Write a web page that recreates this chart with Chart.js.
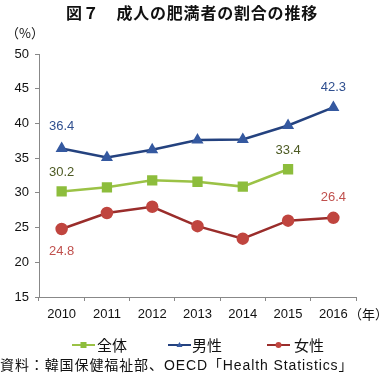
<!DOCTYPE html>
<html lang="ja">
<head>
<meta charset="UTF-8">
<title>成人の肥満者の割合の推移</title>
<script src="https://cdn.jsdelivr.net/npm/chart.js"></script>
<style>
  body { margin: 0; background: #fff; font-family: "Liberation Sans", "Noto Sans CJK JP", sans-serif; }
  #wrap { position: relative; width: 384px; height: 376px; overflow: hidden; }
  #title { position: absolute; top: 0px; left: 0; width: 384px; text-align: center;
    font: bold 16px "Noto Sans CJK JP", sans-serif; color: #111; letter-spacing: 0.8px; }
  #source { position: absolute; left: 0; top: 354px; font: 14px "Liberation Sans", "Noto Sans CJK JP", sans-serif;
    color: #111; white-space: nowrap; letter-spacing: 0.9px; }
  canvas { position: absolute; left: 0; top: 0; }
</style>
</head>
<body>
<div id="wrap">
  <canvas id="chart" width="384" height="376"></canvas>
  <div id="title">図７　成人の肥満者の割合の推移</div>
  <div id="source">資料：韓国保健福祉部、OECD「Health Statistics」</div>
</div>

<script>
  // データ
  const years = ["2010", "2011", "2012", "2013", "2014", "2015", "2016"];
  const zentai = [30.2, 30.8, 31.8, 31.6, 30.9, 33.4, null];
  const dansei = [36.4, 35.1, 36.2, 37.6, 37.7, 39.7, 42.3];
  const josei  = [24.8, 27.1, 28.0, 25.2, 23.4, 26.0, 26.4];
  const seriesNames = ["全体", "男性", "女性"];

  const numFont = '13px "Liberation Sans", sans-serif';
  const jpFont = '13px "Noto Sans CJK JP", sans-serif';

  // 値ラベル（最初と最後だけ）、単位、凡例
  const labelPlugin = {
    id: "valueLabels",
    afterDatasetsDraw(chart) {
      const ctx = chart.ctx;
      const marks = [
        { ds: 1, i: 0, dy: -22, color: "#2f4f8f" },
        { ds: 1, i: 6, dy: -20, color: "#2f4f8f" },
        { ds: 0, i: 0, dy: -19, color: "#4d5a23" },
        { ds: 0, i: 5, dy: -19, color: "#4d5a23" },
        { ds: 2, i: 0, dy: 22, color: "#c0504d" },
        { ds: 2, i: 6, dy: -20, color: "#c0504d" }
      ];
      ctx.save();
      ctx.font = numFont;
      ctx.textAlign = "center";
      ctx.textBaseline = "middle";
      marks.forEach(m => {
        const pt = chart.getDatasetMeta(m.ds).data[m.i];
        const v = chart.data.datasets[m.ds].data[m.i];
        ctx.fillStyle = m.color;
        ctx.fillText(v.toFixed(1), pt.x, pt.y + m.dy);
      });

      // 軸の単位
      ctx.fillStyle = "#111";
      ctx.font = jpFont;
      ctx.textAlign = "left";
      ctx.fillText("（%）", 6, 33);
      ctx.fillText("（年）", 349, 314);

      // 凡例
      const items = [
        { x: 72, tx: 97, ds: 0 },
        { x: 168, tx: 192, ds: 1 },
        { x: 267, tx: 294, ds: 2 }
      ];
      const ly = 345;
      items.forEach(it => {
        const d = chart.data.datasets[it.ds];
        ctx.strokeStyle = d.borderColor;
        ctx.lineWidth = 2;
        ctx.beginPath();
        ctx.moveTo(it.x, ly);
        ctx.lineTo(it.x + 23, ly);
        ctx.stroke();
        ctx.fillStyle = d.pointBackgroundColor;
        const cx = it.x + 11.5;
        if (d.pointStyle === "rect") {
          ctx.fillRect(cx - 3, ly - 3, 6, 6);
        } else if (d.pointStyle === "triangle") {
          ctx.beginPath();
          ctx.moveTo(cx, ly - 3);
          ctx.lineTo(cx + 3, ly + 2);
          ctx.lineTo(cx - 3, ly + 2);
          ctx.closePath();
          ctx.fill();
        } else {
          ctx.beginPath();
          ctx.arc(cx, ly, 3, 0, Math.PI * 2);
          ctx.fill();
        }
        ctx.fillStyle = "#111";
        ctx.font = '15px "Noto Sans CJK JP", sans-serif';
        ctx.textAlign = "left";
        ctx.fillText(seriesNames[it.ds], it.tx, ly);
      });
      ctx.restore();
    }
  };

  new Chart(document.getElementById("chart"), {
    type: "line",
    data: {
      labels: years,
      datasets: [
        {
          label: seriesNames[0], data: zentai,
          borderColor: "#9bc246", backgroundColor: "#8dbd3c",
          pointBackgroundColor: "#8dbd3c", pointBorderColor: "#8dbd3c",
          pointStyle: "rect", pointRadius: 5.5, borderWidth: 2.5, tension: 0
        },
        {
          label: seriesNames[1], data: dansei,
          borderColor: "#24427f", backgroundColor: "#3559a0",
          pointBackgroundColor: "#3559a0", pointBorderColor: "#3559a0",
          pointStyle: "triangle", pointRadius: 4.5, borderWidth: 2.5, tension: 0
        },
        {
          label: seriesNames[2], data: josei,
          borderColor: "#9a2d2b", backgroundColor: "#c0453f",
          pointBackgroundColor: "#c0453f", pointBorderColor: "#c0453f",
          pointStyle: "circle", pointRadius: 5, borderWidth: 2.5, tension: 0
        }
      ]
    },
    options: {
      responsive: false,
      animation: false,
      layout: { padding: { left: 0, top: 54, right: 28, bottom: 49 } },
      plugins: { legend: { display: false }, tooltip: { enabled: false } },
      scales: {
        x: {
          offset: true,
          afterFit(s) { s.height = 30; },
          grid: { display: true, drawOnChartArea: false, offset: true, tickLength: 4, color: "#888" },
          border: { color: "#888", width: 1 },
          ticks: { color: "#111", font: { size: 13, family: "Liberation Sans" }, padding: 6, maxRotation: 0 }
        },
        y: {
          min: 15, max: 50,
          afterFit(s) { s.width = 39; },
          grid: { display: true, drawOnChartArea: false, tickLength: 4, color: "#888" },
          border: { color: "#888", width: 1 },
          ticks: { stepSize: 5, color: "#111", font: { size: 13, family: "Liberation Sans" }, padding: 6 }
        }
      }
    },
    plugins: [labelPlugin]
  });
</script>
</body>
</html>
